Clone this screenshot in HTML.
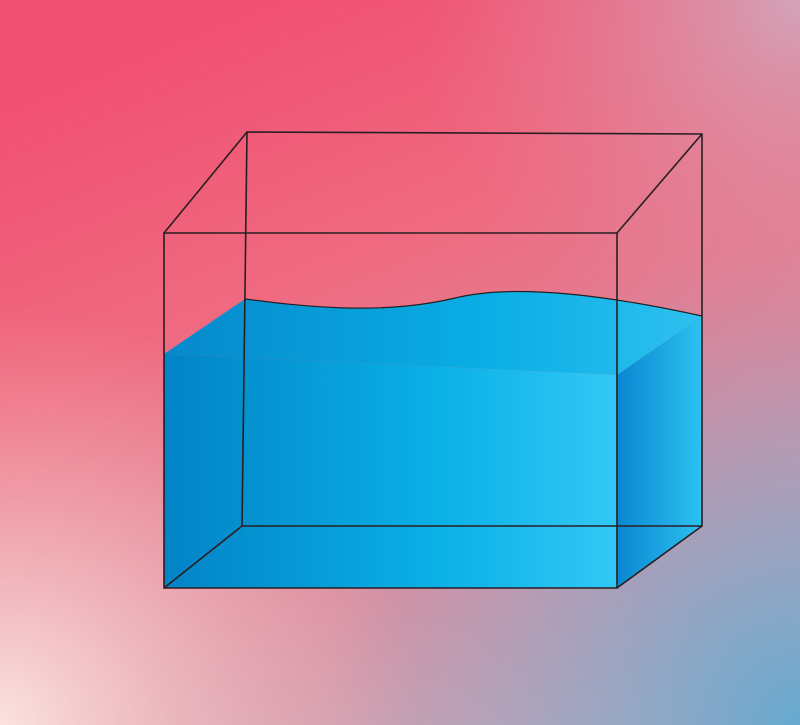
<!DOCTYPE html>
<html><head><meta charset="utf-8"><style>html,body{margin:0;padding:0;width:800px;height:725px;overflow:hidden}</style></head>
<body>
<svg width="800" height="725" viewBox="0 0 800 725" xmlns="http://www.w3.org/2000/svg">
<defs>
<linearGradient id="bg" x1="0.3" y1="0" x2="0.75" y2="1">
<stop offset="0" stop-color="#f14f72"/><stop offset="0.35" stop-color="#ef6a80"/><stop offset="1" stop-color="#c9a8b8"/>
</linearGradient>
<radialGradient id="bl" cx="0" cy="725" r="420" gradientUnits="userSpaceOnUse">
<stop offset="0" stop-color="#fbe2e0" stop-opacity="1"/><stop offset="1" stop-color="#f7b6b8" stop-opacity="0"/>
</radialGradient>
<radialGradient id="br" cx="800" cy="725" r="480" gradientUnits="userSpaceOnUse">
<stop offset="0" stop-color="#66aad0" stop-opacity="1"/><stop offset="1" stop-color="#9aa0c0" stop-opacity="0"/>
</radialGradient>
<radialGradient id="tr" cx="800" cy="0" r="380" gradientUnits="userSpaceOnUse">
<stop offset="0" stop-color="#d3a3b8" stop-opacity="1"/><stop offset="1" stop-color="#e08098" stop-opacity="0"/>
</radialGradient>
<linearGradient id="water" x1="164" y1="0" x2="617" y2="0" gradientUnits="userSpaceOnUse">
<stop offset="0" stop-color="#0283c6"/><stop offset="0.6" stop-color="#0ab0e6"/><stop offset="1" stop-color="#32c8f6"/>
</linearGradient>
<linearGradient id="side" x1="617" y1="0" x2="702" y2="0" gradientUnits="userSpaceOnUse">
<stop offset="0" stop-color="#0a86d2"/><stop offset="1" stop-color="#2cc2f0"/>
</linearGradient>
<linearGradient id="surf" x1="164" y1="0" x2="702" y2="0" gradientUnits="userSpaceOnUse">
<stop offset="0" stop-color="#0689cc"/><stop offset="0.6" stop-color="#0aaee5"/><stop offset="1" stop-color="#2ec0f0"/>
</linearGradient>
</defs>
<rect width="800" height="725" fill="url(#bg)"/>
<rect width="800" height="725" fill="url(#tr)"/>
<rect width="800" height="725" fill="url(#bl)"/>
<rect width="800" height="725" fill="url(#br)"/>
<g>
<path d="M164,354 L245,299 C300,306 380,316 455,298 C520,282 620,298 702,316 L617,375 Z" fill="url(#surf)"/>
<path d="M164,354 L617,375 L617,588 L164,588 Z" fill="url(#water)"/>
<path d="M617,375 L702,316 L702,526 L617,588 Z" fill="url(#side)"/>
<path d="M245,299 C300,306 380,316 455,298 C520,282 620,298 702,316" fill="none" stroke="#222" stroke-width="1.2"/>
</g>
<g fill="none" stroke="#2a1e22" stroke-width="1.6">
<path d="M164,233 L617,233 L617,588 L164,588 Z"/>
<path d="M247,132 L702,134 L702,526 L242,526 Z"/>
<path d="M164,233 L247,132 M617,233 L702,134 M617,588 L702,526 M164,588 L242,526"/>
</g>
</svg>
</body></html>
